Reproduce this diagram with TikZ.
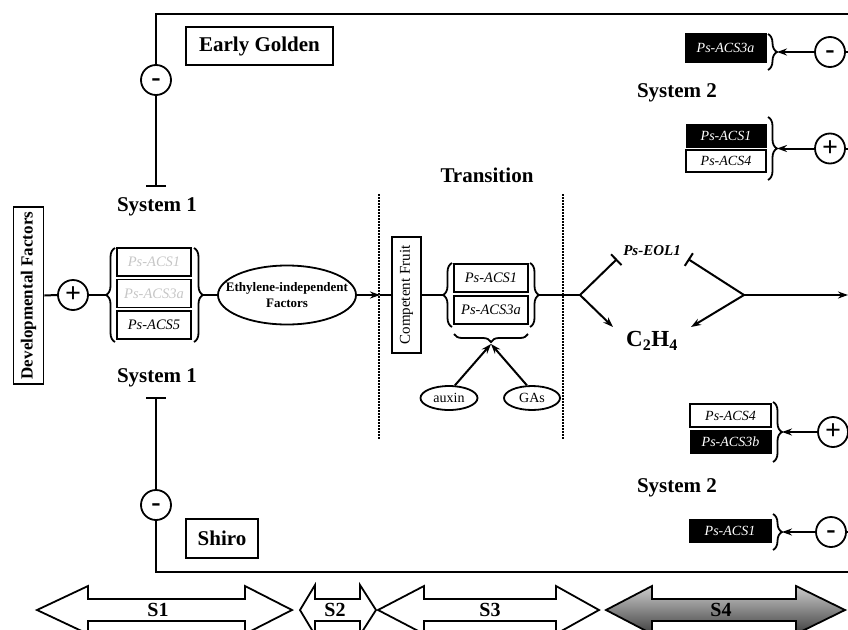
\documentclass[tikz,border=0pt]{standalone}
\usepackage{fontspec}
\setmainfont{Liberation Serif}
\usetikzlibrary{arrows.meta,shapes.geometric,decorations.pathreplacing}
\newcommand\fsz[1]{\fontsize{#1}{#1}\selectfont}
\newcommand\minussign{\raisebox{-0.215em}[0pt][0pt]{-}}
\begin{document}
\begin{tikzpicture}[x=1pt,y=-1pt,
  ln/.style={line width=2pt},
  genebox/.style={draw, line width=1.8pt, inner sep=0pt, minimum width=74pt, minimum height=28pt, font=\fsz{14.5}\itshape},
  blackbox/.style={draw=black, fill=black, text=white, inner sep=0pt, font=\fsz{14}\itshape},
  whitebox/.style={draw, line width=1.8pt, inner sep=0pt, font=\fsz{14}\itshape},
  heading/.style={font=\fsz{21}\bfseries, inner sep=0pt},
  labbox/.style={draw, line width=1.8pt, inner sep=0pt, font=\fsz{21}\bfseries},
  sign/.style={circle, draw, line width=1.8pt, minimum size=30pt, inner sep=0pt, font=\fsz{28}\bfseries},
  brc/.style={decorate, decoration={brace, amplitude=9pt}, line width=1.8pt},
  tbar/.style={-{Bar[width=20pt]}},
  tbars/.style={-{Bar[width=15pt]}},
  arr/.style={-{Stealth[length=10pt,width=7pt]}},
  dotline/.style={line width=2pt, dash pattern=on 1.5pt off 1.5pt},
  stage/.style={draw, line width=1.8pt, line join=miter},
  stagelab/.style={font=\fsz{20}\bfseries, inner sep=0pt}
]
\useasboundingbox (0,0) rectangle (848,629);
\clip (0,0) rectangle (848,629);

% ---------- outer frame (left side)
\node[labbox, minimum width=147pt, minimum height=38pt] (eg) at (259.5,46) {Early Golden};
\node[labbox, minimum width=72pt, minimum height=39pt] (sh) at (222,538.5) {Shiro};
\node[sign] (m1) at (156,80) {\minussign};
\node[sign] (m2) at (156,505) {\minussign};
\coordinate (tl) at (156,14);
\coordinate (tr) at (848,14);
\coordinate (bl) at (156,572);
\coordinate (brr) at (848,572);
\coordinate (tb1) at (156,187);
\coordinate (tb2) at (156,397);
\draw[ln] (m1.north) -- (tl) -- (tr);
\draw[ln, tbar] (m1.south) -- (tb1);
\draw[ln] (m2.south) -- (bl) -- (brr);
\draw[ln, tbar] (m2.north) -- (tb2);

% ---------- headings
\node[heading] (sys1a) at (157,207) {System 1};
\node[heading] (sys1b) at (157,378) {System 1};
\node[heading] (sys2a) at (677,93) {System 2};
\node[heading] (sys2b) at (677,488) {System 2};
\node[heading] (trans) at (487,175) {Transition};

% ---------- system 1 chain
\node[draw, line width=1.8pt, rotate=90, minimum width=177pt, minimum height=30pt, inner sep=0pt, font=\fsz{17}\bfseries] (dev) at (28.5,295.5) {Developmental Factors};
\node[sign] (p1) at (73,295) {+};
\draw[ln] (dev.south) -- (p1.west);

\node[genebox, text=gray!45] (l1) at (154,262) {Ps-ACS1};
\node[genebox, text=gray!45] (l2) at (154,293.5) {Ps-ACS3a};
\node[genebox] (l3) at (154,325) {Ps-ACS5};
\draw[brc] (115,342) -- (115,248);
\draw[brc] (194,248) -- (194,342);
\coordinate (lbL) at (106,295);
\coordinate (lbR) at (203,295);
\draw[ln] (p1.east) -- (lbL);

\node[ellipse, draw, line width=1.8pt, minimum width=138pt, minimum height=59pt, inner xsep=-14pt, inner ysep=0pt, align=center, font=\fontsize{13}{15.5}\selectfont\bfseries] (eif) at (287,295) {Ethylene-independent\\Factors};
\draw[ln] (lbR) -- (eif.west);

% ---------- transition
\coordinate (d1t) at (379,194);
\coordinate (d1b) at (379,440);
\coordinate (d2t) at (563,194);
\coordinate (d2b) at (563,440);
\draw[dotline] (d1t) -- (d1b);
\draw[dotline] (d2t) -- (d2b);

\node[draw, line width=1.8pt, rotate=90, minimum width=116pt, minimum height=29pt, inner sep=0pt, font=\fsz{15}] (cf) at (406.5,295) {Competent Fruit};
\coordinate (d1m) at (380,295);
\draw[ln, arr] (eif.east) -- (d1m);
\draw[ln] (d1m) -- (cf.north);

\node[genebox] (mA) at (491,278) {Ps-ACS1};
\node[genebox] (mB) at (491,310) {Ps-ACS3a};
\draw[brc] (452,327) -- (452,263);
\draw[brc] (530,263) -- (530,327);
\draw[brc, decoration={brace, amplitude=8pt}] (528,334) -- (454,334);
\coordinate (mbL) at (443,295);
\coordinate (mbR) at (539,295);
\coordinate (ubt) at (491,344);
\draw[ln] (cf.south) -- (mbL);

\node[ellipse, draw, line width=1.8pt, minimum width=57pt, minimum height=24pt, inner sep=0pt, font=\fsz{14}] (aux) at (449,398) {auxin};
\node[ellipse, draw, line width=1.8pt, minimum width=56pt, minimum height=24pt, inner sep=0pt, font=\fsz{14}] (gas) at (532,398) {GAs};
\draw[ln, arr] (aux.65) -- (ubt);
\draw[ln, arr] (gas.112) -- (ubt);

% ---------- ethylene / EOL1
\coordinate (br1) at (580,295);
\coordinate (eolL) at (617,259);
\coordinate (c2L) at (613,327);
\coordinate (br2) at (744,295);
\coordinate (eolR) at (688,259);
\coordinate (c2R) at (691,327);
\coordinate (endR) at (848,295);
\node[font=\fsz{15}\bfseries\itshape, inner sep=0pt] (eol) at (652,251) {Ps-EOL1};
\node[font=\fsz{23}\bfseries, inner sep=0pt] (c2h4) at (652,341) {C\textsubscript{2}H\textsubscript{4}};
\draw[ln] (mbR) -- (br1);
\draw[ln, tbars] (br1) -- (eolL);
\draw[ln, arr] (br1) -- (c2L);
\draw[ln, tbars] (br2) -- (eolR);
\draw[ln, arr] (br2) -- (c2R);
\draw[ln, arr] (br2) -- (endR);

% ---------- system 2 (right side)
\node[blackbox, minimum width=81pt, minimum height=29pt] (ra) at (725.5,47.5) {Ps-ACS3a};
\draw[brc] (768,34) -- (768,70);
\coordinate (rt1) at (777,52);
\node[sign] (rs1) at (830,52) {\minussign};
\coordinate (re1) at (848,52);
\draw[ln, arr] (rs1.west) -- (rt1);
\draw[ln] (rs1.east) -- (re1);

\node[blackbox, minimum width=80pt, minimum height=23pt] (rb) at (726,135.5) {Ps-ACS1};
\node[whitebox, minimum width=80pt, minimum height=22pt] (rc) at (726,161) {Ps-ACS4};
\draw[brc] (768,117) -- (768,180);
\coordinate (rt2) at (777,148.5);
\node[sign] (rs2) at (830,148.5) {+};
\coordinate (re2) at (848,148.5);
\draw[ln, arr] (rs2.west) -- (rt2);
\draw[ln] (rs2.east) -- (re2);

\node[whitebox, minimum width=81pt, minimum height=23pt] (rd) at (730.5,415.5) {Ps-ACS4};
\node[blackbox, minimum width=81pt, minimum height=23pt] (re) at (730.5,441.5) {Ps-ACS3b};
\draw[brc] (773,402) -- (773,462);
\coordinate (rt3) at (782,432);
\node[sign] (rs3) at (833,432) {+};
\coordinate (re3) at (848,432);
\draw[ln, arr] (rs3.west) -- (rt3);
\draw[ln] (rs3.east) -- (re3);

\node[blackbox, minimum width=82pt, minimum height=23pt] (rf) at (730,530.5) {Ps-ACS1};
\draw[brc] (773,514) -- (773,550);
\coordinate (rt4) at (782,532);
\node[sign] (rs4) at (831,532) {\minussign};
\coordinate (re4) at (848,532);
\draw[ln, arr] (rs4.west) -- (rt4);
\draw[ln] (rs4.east) -- (re4);

% ---------- stages
\draw[stage, fill=white] (37,610) -- (88,586) -- (88,599) -- (245,599) -- (245,586) -- (292,610) -- (245,634) -- (245,621) -- (88,621) -- (88,634) -- cycle;
\draw[stage, fill=white] (300,610) -- (315,585) -- (315,599) -- (360,599) -- (360,585) -- (376,610) -- (360,635) -- (360,621) -- (315,621) -- (315,635) -- cycle;
\draw[stage, fill=white] (378,610) -- (424,586) -- (424,599) -- (556,599) -- (556,586) -- (599,610) -- (556,634) -- (556,621) -- (424,621) -- (424,634) -- cycle;
\draw[stage, top color=gray!40, bottom color=black!75] (606,610) -- (652,586) -- (652,599) -- (796,599) -- (796,586) -- (845,610) -- (796,634) -- (796,621) -- (652,621) -- (652,634) -- cycle;
\node[stagelab] (s1) at (158,610) {S1};
\node[stagelab] (s2) at (335,610) {S2};
\node[stagelab] (s3) at (490,610) {S3};
\node[stagelab] (s4) at (721,610) {S4};
\end{tikzpicture}
\end{document}
